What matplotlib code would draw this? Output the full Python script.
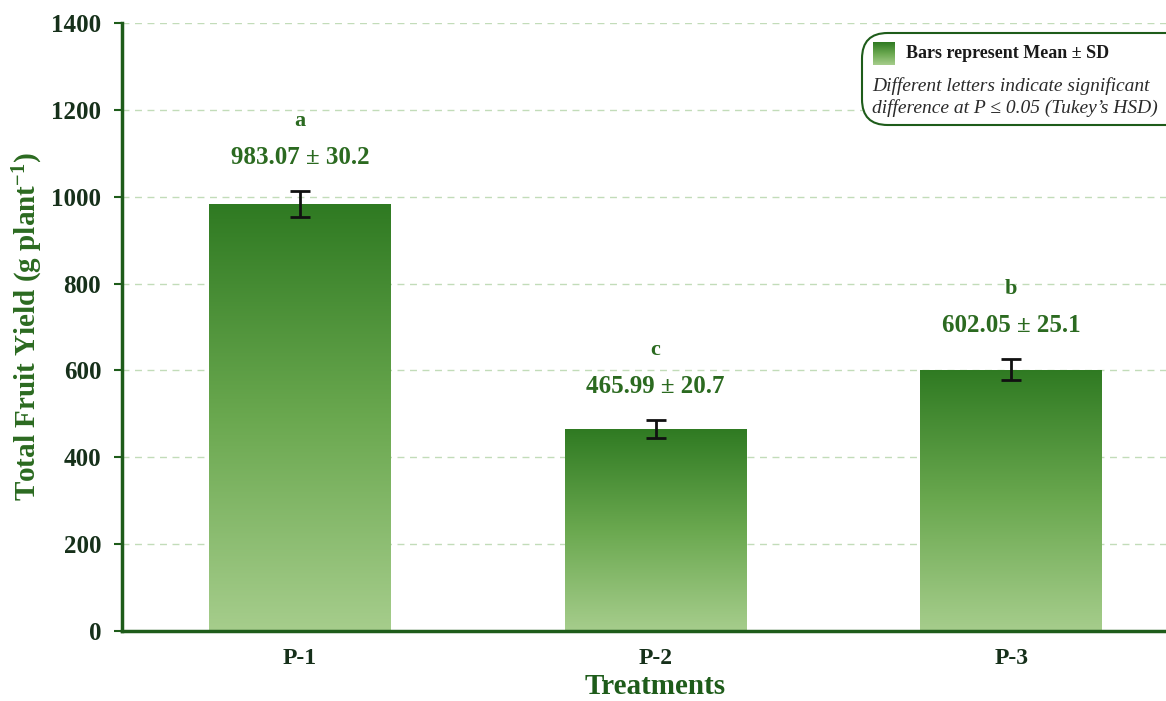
import matplotlib
matplotlib.use("Agg")
import matplotlib.pyplot as plt
import numpy as np
from matplotlib.colors import LinearSegmentedColormap
from matplotlib.patches import FancyBboxPatch

treatments = ["P-1", "P-2", "P-3"]
mean_yield = [983.07, 465.99, 602.05]
sd_yield = [30.2, 20.7, 25.1]
letters = ["a", "c", "b"]
y_ticks = [0, 200, 400, 600, 800, 1000, 1200, 1400]

plt.rcParams["font.family"] = ["Liberation Serif", "DejaVu Serif"]
plt.rcParams["mathtext.default"] = "regular"

DARK = "#1e5c1a"
TEXT_GREEN = "#2b6a20"
grad = LinearSegmentedColormap.from_list("g", ["#a6cd8c", "#6aa84f", "#2f7a22"])

fig = plt.figure(figsize=(11.66, 7.01), dpi=100)
# axes run a little past the right edge of the canvas
ax = fig.add_axes([122 / 1166, 0.0999, (1189 - 122) / 1166, 0.8673])

x = np.arange(len(treatments))
width = 0.51
bars = ax.bar(x, mean_yield, width, color="none", zorder=2)

# vertical gradient fill, clipped to each bar
g = np.linspace(0, 1, 256).reshape(-1, 1)
for b in bars:
    x0, y0 = b.get_x(), b.get_y()
    im = ax.imshow(g, cmap=grad, origin="lower", aspect="auto",
                   extent=[x0, x0 + b.get_width(), y0, y0 + b.get_height()],
                   zorder=2)
    im.set_clip_path(b)

ax.errorbar(x, mean_yield, yerr=sd_yield, fmt="none", ecolor="#111111",
            elinewidth=2, capsize=7, capthick=2, zorder=4)

for xi, m, s, let in zip(x, mean_yield, sd_yield, letters):
    top = m + s
    ax.annotate(f"{m:.2f} ± {s}", (xi, top), xytext=(0, 24),
                textcoords="offset points", ha="center", va="center",
                fontsize=18, fontweight="bold", color=TEXT_GREEN)
    ax.annotate(let, (xi, top), xytext=(0, 50),
                textcoords="offset points", ha="center", va="center",
                fontsize=16, fontweight="bold", color=TEXT_GREEN)

ax.set_xlim(-0.5, 2.5)
ax.set_ylim(0, 1400)
ax.set_yticks(y_ticks)
ax.set_xticks(x)
ax.set_xticklabels(treatments)
ax.tick_params(axis="y", labelsize=18, colors=DARK, labelcolor="#16301a",
               length=6, width=1.5, pad=9)
ax.tick_params(axis="x", labelsize=17, length=0, pad=12, labelcolor="#16301a")
for lab in ax.get_xticklabels() + ax.get_yticklabels():
    lab.set_fontweight("bold")

for side in ["top", "right"]:
    ax.spines[side].set_visible(False)
for side in ["left", "bottom"]:
    ax.spines[side].set_color(DARK)
    ax.spines[side].set_linewidth(2.5)

ax.yaxis.grid(True, ls=(0, (5, 4)), color="#c2dcb9", lw=1, zorder=0)
ax.set_axisbelow(True)

ax.set_ylabel("Total Fruit Yield (g plant$^{-1}$)", fontsize=21,
              fontweight="bold", color=TEXT_GREEN, labelpad=4)
ax.set_xlabel("Treatments", fontsize=21, fontweight="bold", color=DARK,
              labelpad=3)

# note box in the upper right
box = FancyBboxPatch((862 / 1166, (701 - 125) / 701), 0.3, 92 / 701,
                     boxstyle="round,pad=0,rounding_size=0.022",
                     transform=fig.transFigure, facecolor="white",
                     edgecolor=DARK, lw=1.5, zorder=5, clip_on=False,
                     mutation_aspect=1166 / 701)
fig.add_artist(box)
sw = fig.add_axes([873 / 1166, (701 - 65) / 701, 22 / 1166, 23 / 701])
sw.imshow(g, cmap=grad, origin="lower", aspect="auto")
sw.set_axis_off()
sw.set_zorder(6)
fig.text(906 / 1166, (701 - 53) / 701, "Bars represent Mean ± SD",
         fontsize=13, fontweight="bold", color="#1a1a1a", va="center",
         zorder=6)
fig.text(872 / 1166, (701 - 86) / 701, "Different letters indicate significant",
         fontsize=14, style="italic", color="#2a2a2a", va="center", zorder=6)
fig.text(872 / 1166, (701 - 108) / 701, "difference at P ≤ 0.05 (Tukey’s HSD)",
         fontsize=14, style="italic", color="#2a2a2a", va="center", zorder=6)

fig.savefig("out.png", dpi=100)
